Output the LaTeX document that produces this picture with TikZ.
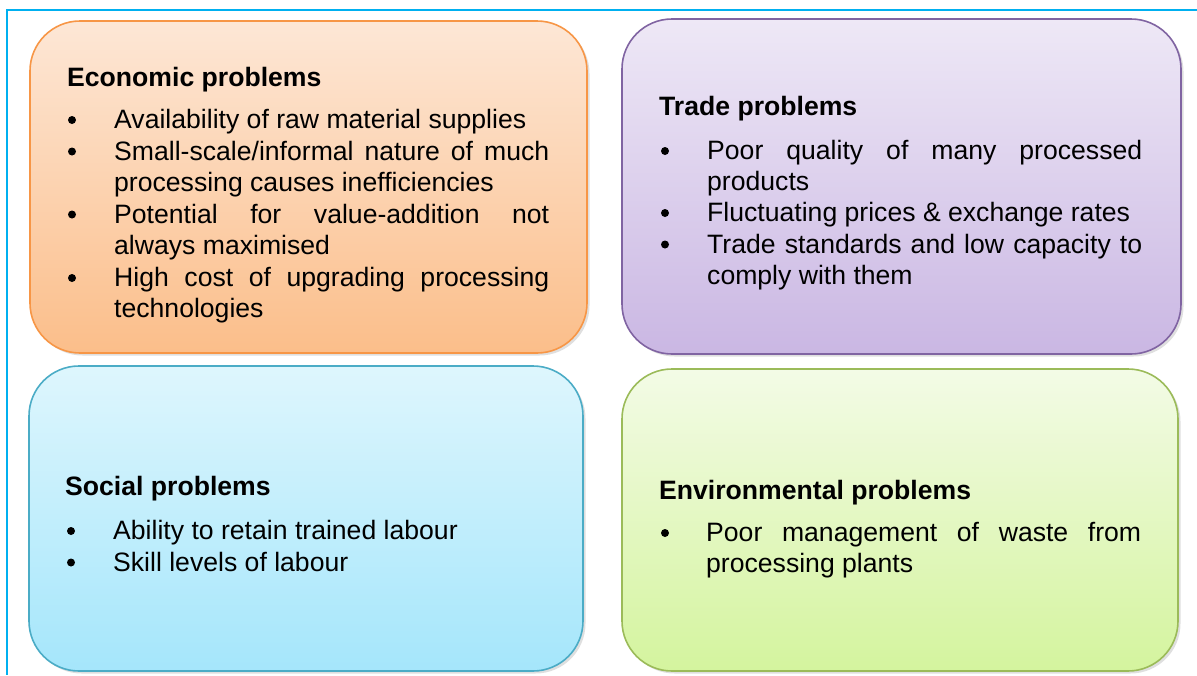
\documentclass[tikz,border=0pt]{standalone}
\usepackage{fontspec}
\setmainfont{Liberation Sans}
\usetikzlibrary{shadows}
\definecolor{frameblue}{HTML}{00B0F0}
\definecolor{econline}{HTML}{F79646}
\definecolor{econtop}{HTML}{FDE7D6}
\definecolor{econbot}{HTML}{FBBE8A}
\definecolor{tradeline}{HTML}{8064A2}
\definecolor{tradetop}{HTML}{EEE8F6}
\definecolor{tradebot}{HTML}{CAB7E3}
\definecolor{socline}{HTML}{4BACC6}
\definecolor{soctop}{HTML}{DEF6FD}
\definecolor{socbot}{HTML}{A5E6FB}
\definecolor{envline}{HTML}{9BBB59}
\definecolor{envtop}{HTML}{F3FBE6}
\definecolor{envbot}{HTML}{D4F49E}
\tolerance=9999
\hyphenpenalty=10000
\exhyphenpenalty=10000
\begin{document}
\begin{tikzpicture}[x=1pt,y=-1pt,
  probbox/.style={rectangle,rounded corners=50pt,line width=1.6pt,
    drop shadow={shadow xshift=2.5pt,shadow yshift=-2.5pt,opacity=.25}},
  head/.style={anchor=base west,inner sep=0pt,font=\bfseries\fontsize{26.6}{31.3}\selectfont},
  dot/.style={circle,fill=black,inner sep=0pt,minimum size=8pt,yshift=8.5pt},
  item/.style={anchor=base west,inner sep=0pt,text width=435pt,align=justify,
    font=\fontsize{26.6}{31.3}\selectfont}]
  \useasboundingbox (0,0) rectangle (1197,675);
  \draw[frameblue,line width=2.2pt] (1197,10) -- (7,10) -- (7,675);

  \node[probbox,draw=econline,top color=econtop,bottom color=econbot,
    minimum width=557pt,minimum height=332pt] (econ) at (308.5,187) {};
  \node[probbox,draw=tradeline,top color=tradetop,bottom color=tradebot,
    minimum width=559pt,minimum height=335pt] (trade) at (901.5,186.5) {};
  \node[probbox,draw=socline,top color=soctop,bottom color=socbot,
    minimum width=554pt,minimum height=305pt] (social) at (306,518.5) {};
  \node[probbox,draw=envline,top color=envtop,bottom color=envbot,
    minimum width=556pt,minimum height=302pt] (env) at (900,520) {};

  \node[head] (econhead) at (67,86) {Economic problems};
  \node[dot] (econdot1) at (72,128.5) {};
  \node[item] (econitem1) at (114,128.5) {Availability of raw material supplies};
  \node[dot] (econdot2) at (72,160) {};
  \node[item] (econitem2) at (114,160) {Small-scale/informal nature of much\linebreak processing causes inefficiencies};
  \node[dot] (econdot3) at (72,223) {};
  \node[item] (econitem3) at (114,223) {Potential for value-addition not\linebreak always maximised};
  \node[dot] (econdot4) at (72,286.5) {};
  \node[item] (econitem4) at (114,286.5) {High cost of upgrading processing\linebreak technologies};

  \node[head] (tradehead) at (659,115) {Trade problems};
  \node[dot] (tradedot1) at (665,159.5) {};
  \node[item] (tradeitem1) at (707,159.5) {Poor quality of many processed\linebreak products};
  \node[dot] (tradedot2) at (665,221.5) {};
  \node[item] (tradeitem2) at (707,221.5) {Fluctuating prices \& exchange rates};
  \node[dot] (tradedot3) at (665,253) {};
  \node[item] (tradeitem3) at (707,253) {Trade standards and low capacity to\linebreak comply with them};

  \node[head] (sochead) at (65,495) {Social problems};
  \node[dot] (socdot1) at (71,539.5) {};
  \node[item] (socitem1) at (113,539.5) {Ability to retain trained labour};
  \node[dot] (socdot2) at (71,571) {};
  \node[item] (socitem2) at (113,571) {Skill levels of labour};

  \node[head] (envhead) at (659,499) {Environmental problems};
  \node[dot] (envdot1) at (665,541.5) {};
  \node[item] (envitem1) at (706,541.5) {Poor management of waste from\linebreak processing plants};
\end{tikzpicture}
\end{document}
